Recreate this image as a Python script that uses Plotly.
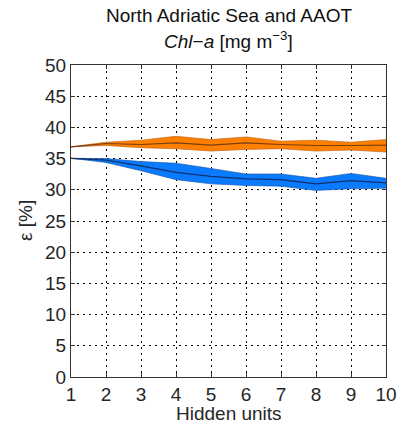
import plotly.graph_objects as go

hidden_units = [1, 2, 3, 4, 5, 6, 7, 8, 9, 10]

orange_mean = [36.89, 37.42, 37.26, 37.53, 37.16, 37.53, 37.26, 37.10, 37.10, 37.16]
orange_upper = [36.89, 37.63, 37.95, 38.58, 38.05, 38.47, 37.79, 37.95, 37.63, 38.05]
orange_lower = [36.89, 37.10, 36.74, 36.58, 36.21, 36.47, 36.58, 36.21, 36.37, 36.05]

blue_mean = [35.05, 34.74, 33.84, 32.79, 32.16, 31.74, 31.63, 30.95, 31.47, 31.10]
blue_upper = [35.05, 35.00, 34.53, 34.26, 33.42, 32.53, 32.53, 31.84, 32.63, 31.84]
blue_lower = [35.05, 34.37, 33.05, 31.63, 30.95, 30.68, 30.58, 29.90, 30.16, 30.26]

x_ticks = list(range(1, 11))
y_ticks = list(range(0, 51, 5))

FONT = "Liberation Sans, Arial, sans-serif"
FS = 19

fig = go.Figure()

def add_band(upper, lower, mean, fill, edge, mline):
    fig.add_trace(go.Scatter(x=hidden_units, y=upper, mode="lines",
                             line=dict(color=edge, width=0.6), showlegend=False,
                             hoverinfo="skip"))
    fig.add_trace(go.Scatter(x=hidden_units, y=lower, mode="lines",
                             line=dict(color=edge, width=0.6), fill="tonexty",
                             fillcolor=fill, showlegend=False, hoverinfo="skip"))
    fig.add_trace(go.Scatter(x=hidden_units, y=mean, mode="lines",
                             line=dict(color=mline, width=1.2), showlegend=False))

add_band(orange_upper, orange_lower, orange_mean, "#FF8000", "#B85C10", "#7A3E12")
add_band(blue_upper, blue_lower, blue_mean, "#0A7BFF", "#1050A0", "#14306A")

axis_common = dict(
    showgrid=True, gridcolor="black", gridwidth=1, griddash="2px,4px",
    showline=True, linecolor="#333333", linewidth=1, mirror="ticks",
    ticks="inside", ticklen=4, tickcolor="#333333", zeroline=False,
    tickfont=dict(family=FONT, size=FS, color="#262626"),
)

fig.update_xaxes(range=[1, 10], tickvals=x_ticks, **axis_common)
fig.update_yaxes(range=[0, 50], tickvals=y_ticks, **axis_common)

fig.update_layout(
    width=409, height=429,
    margin=dict(l=71, r=14, t=65, b=52),
    plot_bgcolor="white", paper_bgcolor="white",
    font=dict(family=FONT, size=FS, color="#262626"),
    annotations=[
        dict(text="North Adriatic Sea and AAOT", xref="paper", yref="paper",
             x=0.5, y=1, yanchor="middle", yshift=50, showarrow=False,
             font=dict(family=FONT, size=FS, color="#111111")),
        dict(text="<i>Chl</i>−<i>a</i> [mg m<sup>−3</sup>]", xref="paper", yref="paper",
             x=0.5, y=1, yanchor="middle", yshift=25, showarrow=False,
             font=dict(family=FONT, size=FS, color="#111111")),
        dict(text="Hidden units", xref="paper", yref="paper",
             x=0.5, y=0, yanchor="middle", yshift=-36, showarrow=False,
             font=dict(family=FONT, size=FS, color="#262626")),
        dict(text="ε [%]", xref="paper", yref="paper", textangle=-90,
             x=0, y=0.5, xanchor="center", xshift=-46, showarrow=False,
             font=dict(family=FONT, size=FS, color="#262626")),
    ],
)

fig.write_html("out.html")
